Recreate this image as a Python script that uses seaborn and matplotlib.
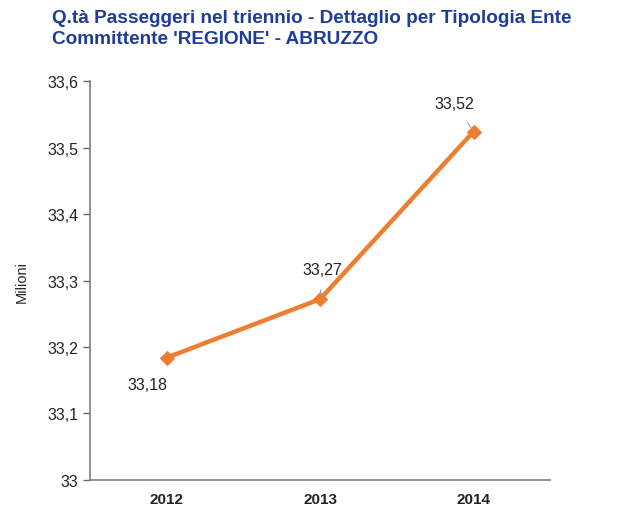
import seaborn as sns
import pandas as pd
import numpy as np
import matplotlib.pyplot as plt
from matplotlib.ticker import FixedLocator

years = ["2012", "2013", "2014"]
passengers = [33.184, 33.272, 33.524]
value_labels = ["33,18", "33,27", "33,52"]
y_ticks = [33.0, 33.1, 33.2, 33.3, 33.4, 33.5, 33.6]
y_ticklabels = ["33", "33,1", "33,2", "33,3", "33,4", "33,5", "33,6"]

df = pd.DataFrame({"pos": np.arange(len(years)), "value": passengers})

sns.set_style("white")
plt.rcParams['font.family'] = ['Liberation Sans', 'DejaVu Sans']

fig = plt.figure(figsize=(6.21, 5.10), dpi=100)
ax = fig.add_axes([0.145, 0.057, 0.741, 0.782])

orange = "#ED7D31"
sns.lineplot(data=df, x="pos", y="value", ax=ax, color=orange, linewidth=3.2,
             marker="D", markersize=7, markeredgecolor=orange)

ax.set_xlim(-0.5, 2.5)
ax.set_ylim(33.0, 33.6)
ax.set_yticks(y_ticks)
ax.set_yticklabels(y_ticklabels, fontsize=11.5, color="#222222")
ax.set_xticks(df["pos"])
ax.set_xticklabels(years, fontsize=11, fontweight="bold", color="#222222")
ax.xaxis.set_minor_locator(FixedLocator([-0.5, 0.5, 1.5, 2.5]))
ax.tick_params(axis="x", which="major", length=0, pad=9)
ax.tick_params(axis="x", which="minor", length=5, width=1, color="#666666", direction="out")
ax.tick_params(axis="y", length=5, width=1, color="#666666", direction="out", left=True)
ax.set_xlabel("")
ax.set_ylabel("Milioni", fontsize=10.5, labelpad=13)

for s in ["top", "right"]:
    ax.spines[s].set_visible(False)
for s in ["left", "bottom"]:
    ax.spines[s].set_color("#808080")
    ax.spines[s].set_linewidth(1.2)

# data labels
offsets = [(-14, -19), (1.5, 21.5), (-13.5, 20)]
for i, (lab, off) in enumerate(zip(value_labels, offsets)):
    ax.annotate(lab, xy=(i, passengers[i]), xytext=off, textcoords="offset points",
                ha="center", va="center", fontsize=11.5, color="#222222",
                arrowprops=None if i == 0 else dict(arrowstyle="-", color="#A0A0A0", lw=0.8,
                                                    shrinkA=7, shrinkB=3))

fig.text(0.084, 0.98, "Q.tà Passeggeri nel triennio - Dettaglio per Tipologia Ente\nCommittente 'REGIONE' - ABRUZZO",
         color="#1F3C98", fontsize=13.7, fontweight="bold", ha="left", va="top", linespacing=1.3)

plt.savefig("out.png", dpi=100)
